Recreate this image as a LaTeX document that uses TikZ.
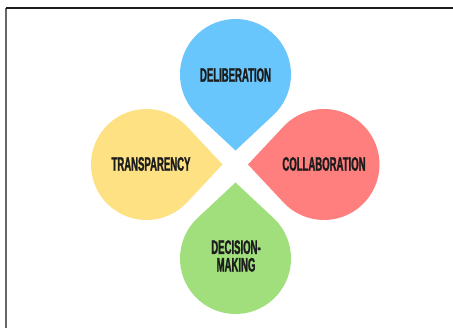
\documentclass[tikz,border=0pt]{standalone}
\usepackage{fontspec}
\newfontfamily\petalfont[FakeStretch=0.49, FakeBold=1.2]{Liberation Sans Bold}
\usetikzlibrary{calc}
\definecolor{petalblue}{HTML}{69C6FC}
\definecolor{petalyellow}{HTML}{FDE182}
\definecolor{petalred}{HTML}{FE7F7E}
\definecolor{petalgreen}{HTML}{A0DF7B}
\definecolor{inkdark}{HTML}{1C1C1C}
\tikzset{
  petallabel/.style={font=\petalfont\fontsize{19.5}{17.6}\selectfont, text=inkdark, align=center, inner sep=0pt},
  framerule/.style={line width=1.1pt, draw=#1},
}
% teardrop: #1 circle centre, #2 direction of the tip (deg), #3 fill colour
\newcommand{\drawpetal}[3]{%
  \fill[#3] ($(#1)+(#2:76)$) -- ($(#1)+(#2+43.1:55.5)$)
    arc[start angle=#2+43.1, end angle=#2-43.1+360, radius=55.5] -- cycle;}
\begin{document}
\begin{tikzpicture}[x=1pt,y=1pt]
  \useasboundingbox (0,0) rectangle (453,328);
  \fill[white] (0,0) rectangle (453,328);
  % page frame
  \draw[framerule=gray!80!black] (6,0) -- (6,320);
  \draw[framerule=inkdark] (5.5,320) -- (453,320);
  % petal centres
  \coordinate (cb) at (235.5,253.5);
  \coordinate (cy) at (146.5,163.5);
  \coordinate (cr) at (324,163.5);
  \coordinate (cg) at (235.5,69.5);
  \drawpetal{cb}{-90}{petalblue}
  \drawpetal{cy}{0}{petalyellow}
  \drawpetal{cr}{180}{petalred}
  \drawpetal{cg}{90}{petalgreen}
  % labels
  \node[petallabel] (delib) at (235.5,253) {DELIBERATION};
  \node[petallabel] (transp) at (151,164) {TRANSPARENCY};
  \node[petallabel] (collab) at (324,164) {COLLABORATION};
  \node[petallabel] (decis) at (236,72) {DECISION-\\MAKING};
\end{tikzpicture}
\end{document}
